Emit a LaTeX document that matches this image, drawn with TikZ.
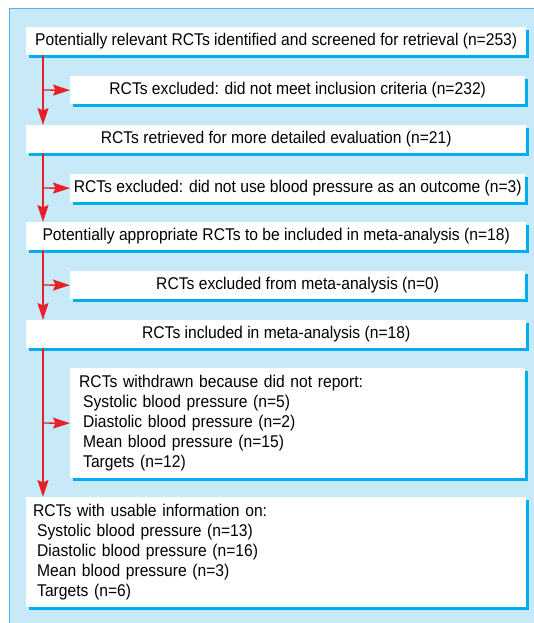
\documentclass[tikz,border=0pt]{standalone}
\usepackage{fontspec}
\setmainfont[FakeStretch=0.92]{Liberation Sans}
\usetikzlibrary{arrows.meta,shadows}
\definecolor{PanelBlue}{HTML}{C8E9F8}
\definecolor{PanelLine}{HTML}{4DB8E8}
\definecolor{ShadowBlue}{HTML}{00AEEF}
\definecolor{FlowRed}{HTML}{E8202A}
\tikzset{%
	% Style of the boxes
	Box/.style={fill=white,inner sep=0,anchor=north west,minimum height=28pt,
		font=\fontsize{17}{20}\selectfont,
		drop shadow={shadow xshift=3pt,shadow yshift=-3pt,fill=ShadowBlue,opacity=1}},
	% Boxes on the main line
	WideBox/.style={Box,minimum width=500pt},
	% Boxes on a side branch
	NarrowBox/.style={Box,minimum width=455pt},
	% Boxes with a list
	ListBox/.style={align=left,minimum height=110pt},
	% Style of the arrows
	Flow/.style={draw=FlowRed,line width=1.4pt,-{Stealth[length=17pt,width=11pt,inset=2.5pt]}},
}
\begin{document}
\begin{tikzpicture}[x=1pt,y=-1pt]
\useasboundingbox (0,0) rectangle (534,623);

%~~~~~~~~~~~~~~~~~~~~~~~~~~~~~~~~~~~~~~~~~~~~~~~~~~
% Background
%~~~~~~~~~~~~~~~~~~~~~~~~~~~~~~~~~~~~~~~~~~~~~~~~~~
\fill[PanelBlue] (9,8) rectangle (540,630);
\draw[PanelLine,line width=1pt] (9.5,630) -- (9.5,8.5) -- (540,8.5);

%~~~~~~~~~~~~~~~~~~~~~~~~~~~~~~~~~~~~~~~~~~~~~~~~~~
% Set Boxes
%~~~~~~~~~~~~~~~~~~~~~~~~~~~~~~~~~~~~~~~~~~~~~~~~~~
\node[WideBox] (B1) at (26, 27) {Potentially relevant RCTs identified and screened for retrieval (n=253)};
\node[NarrowBox] (B2) at (70, 76) {RCTs excluded: did not meet inclusion criteria (n=232)};
\node[WideBox] (B3) at (26, 125) {RCTs retrieved for more detailed evaluation (n=21)};
\node[NarrowBox] (B4) at (70, 174) {RCTs excluded: did not use blood pressure as an outcome (n=3)};
\node[WideBox] (B5) at (26, 222) {Potentially appropriate RCTs to be included in meta-analysis (n=18)};
\node[NarrowBox] (B6) at (70, 271) {RCTs excluded from meta-analysis (n=0)};
\node[WideBox] (B7) at (26, 320) {RCTs included in meta-analysis (n=18)};
\node[NarrowBox,ListBox,inner xsep=9pt,text width=437pt] (B8) at (70, 368) {RCTs withdrawn because did not report:\\
	\hspace*{4pt}Systolic blood pressure (n=5)\\
	\hspace*{4pt}Diastolic blood pressure (n=2)\\
	\hspace*{4pt}Mean blood pressure (n=15)\\
	\hspace*{4pt}Targets (n=12)};
\node[WideBox,ListBox,inner xsep=7pt,text width=486pt] (B9) at (26, 497) {RCTs with usable information on:\\
	\hspace*{4pt}Systolic blood pressure (n=13)\\
	\hspace*{4pt}Diastolic blood pressure (n=16)\\
	\hspace*{4pt}Mean blood pressure (n=3)\\
	\hspace*{4pt}Targets (n=6)};

%~~~~~~~~~~~~~~~~~~~~~~~~~~~~~~~~~~~~~~~~~~~~~~~~~~
% Set Arrows
%~~~~~~~~~~~~~~~~~~~~~~~~~~~~~~~~~~~~~~~~~~~~~~~~~~
\coordinate (J1) at (43, 90);
\coordinate (J2) at (43, 188);
\coordinate (J3) at (43, 285);
\coordinate (J4) at (43, 423);

\draw[Flow] (J1 |- B1.south) -- (J1 |- B3.north);
\draw[Flow] (J1) -- (B2.west);
\draw[Flow] (J2 |- B3.south) -- (J2 |- B5.north);
\draw[Flow] (J2) -- (B4.west);
\draw[Flow] (J3 |- B5.south) -- (J3 |- B7.north);
\draw[Flow] (J3) -- (B6.west);
\draw[Flow] (J4 |- B7.south) -- (J4 |- B9.north);
\draw[Flow] (J4) -- (B8.west);

\end{tikzpicture}
\end{document}
